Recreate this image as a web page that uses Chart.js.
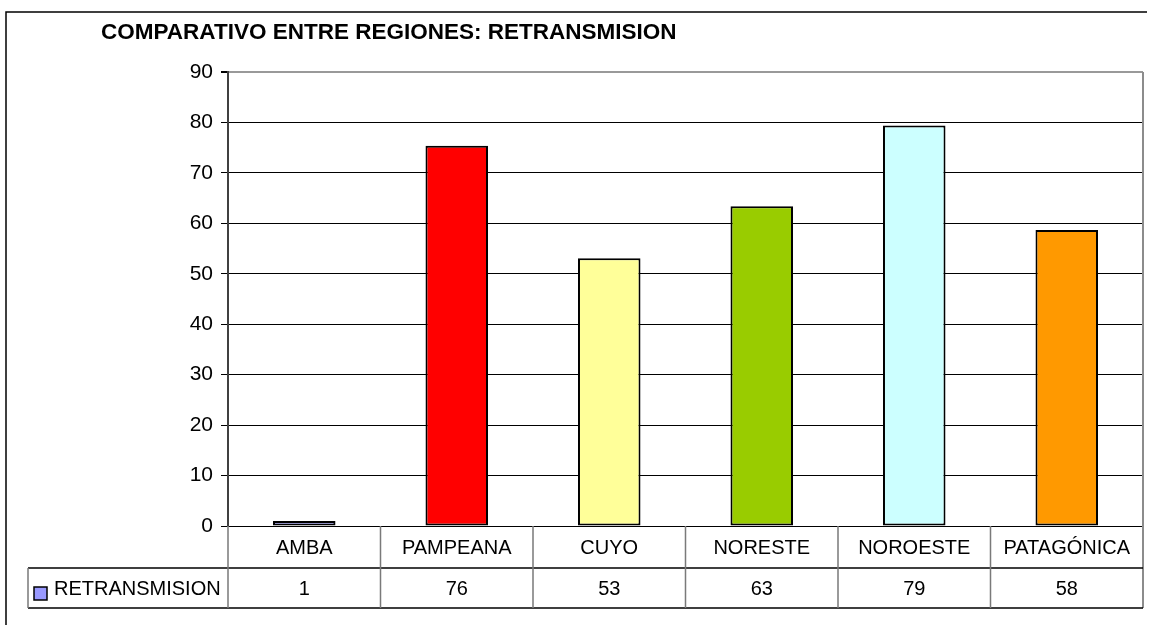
<!DOCTYPE html>
<html>
<head>
<meta charset="utf-8">
<script src="https://cdn.jsdelivr.net/npm/chart.js@4.4.1/dist/chart.umd.min.js"></script>
<style>
    html, body { margin: 0; padding: 0; background: #fff; }
    #wrap { width: 1153px; height: 625px; }
</style>
</head>
<body>
<div id="wrap"><canvas id="regionChart" width="1153" height="625"></canvas></div>
<script>
const regions = ['AMBA', 'PAMPEANA', 'CUYO', 'NORESTE', 'NOROESTE', 'PATAGÓNICA'];
const retransmision = [1, 75.4, 53.1, 63.4, 79.4, 58.7];
const tableValues = ['1', '76', '53', '63', '79', '58'];
const barColors = ['#9999ff', '#ff0000', '#ffff99', '#99cc00', '#ccffff', '#ff9900'];
const yTicks = [0, 10, 20, 30, 40, 50, 60, 70, 80, 90];
const seriesName = 'RETRANSMISION';
const chartTitle = 'COMPARATIVO ENTRE REGIONES: RETRANSMISION';

const FONT = 'Arial, "Liberation Sans", sans-serif';

// title, outer frame and the data table under the plot
const tablePlugin = {
    id: 'excelTable',
    afterDraw(chart) {
        const ctx = chart.ctx;
        const area = chart.chartArea;
        const xScale = chart.scales.x;
        const half = (xScale.getPixelForValue(1) - xScale.getPixelForValue(0)) / 2;
        const row1 = area.bottom + 42;
        const row2 = area.bottom + 82;
        const legendLeft = 28;

        ctx.save();

        // outer frame
        ctx.strokeStyle = '#000';
        ctx.lineWidth = 1.5;
        ctx.beginPath();
        ctx.moveTo(6, 625);
        ctx.lineTo(6, 12);
        ctx.lineTo(1147, 12);
        ctx.stroke();

        // title
        ctx.fillStyle = '#000';
        ctx.font = 'bold 22.5px ' + FONT;
        ctx.textAlign = 'left';
        ctx.textBaseline = 'middle';
        ctx.fillText(chartTitle, 101, 33);

        // right border of plot
        ctx.strokeStyle = '#8c8c8c';
        ctx.lineWidth = 2;
        ctx.beginPath();
        ctx.moveTo(area.right, area.top);
        ctx.lineTo(area.right, row2);
        ctx.stroke();

        // horizontal table lines
        ctx.strokeStyle = '#000';
        ctx.lineWidth = 1.5;
        ctx.beginPath();
        ctx.moveTo(legendLeft, row1);
        ctx.lineTo(area.right, row1);
        ctx.moveTo(legendLeft, row2);
        ctx.lineTo(area.right, row2);
        ctx.stroke();

        // vertical table lines
        ctx.strokeStyle = '#7a7a7a';
        ctx.lineWidth = 1.5;
        ctx.beginPath();
        ctx.moveTo(legendLeft, row1);
        ctx.lineTo(legendLeft, row2);
        regions.forEach((r, i) => {
            const x = xScale.getPixelForValue(i) - half;
            ctx.moveTo(x, area.bottom);
            ctx.lineTo(x, row2);
        });
        ctx.stroke();

        // category labels and values
        ctx.fillStyle = '#000';
        ctx.font = '20px ' + FONT;
        ctx.textAlign = 'center';
        regions.forEach((r, i) => {
            const x = xScale.getPixelForValue(i);
            ctx.fillText(r, x, (area.bottom + row1) / 2 + 1);
            ctx.fillText(tableValues[i], x, (row1 + row2) / 2 + 1);
        });

        // legend key
        ctx.fillStyle = barColors[0];
        ctx.fillRect(34, 587, 13, 13);
        ctx.strokeStyle = '#000';
        ctx.lineWidth = 1.5;
        ctx.strokeRect(34, 587, 13, 13);
        ctx.fillStyle = '#000';
        ctx.textAlign = 'left';
        ctx.fillText(seriesName, 54, (row1 + row2) / 2 + 1);

        ctx.restore();
    },
};

const canvas = document.getElementById('regionChart');
const regionChart = new Chart(canvas, {
    type: 'bar',
    data: {
        labels: regions,
        datasets: [
            {
                label: seriesName,
                data: retransmision,
                backgroundColor: barColors,
                borderColor: '#000',
                borderWidth: 2,
                borderSkipped: false,
                barPercentage: 0.41,
                categoryPercentage: 1,
            },
        ],
    },
    options: {
        responsive: false,
        animation: false,
        layout: {
            padding: { left: 0, right: 10, top: 72, bottom: 99 },
        },
        scales: {
            x: {
                display: false,
            },
            y: {
                min: 0,
                max: 90,
                afterFit: (scale) => {
                    scale.width = 228;
                },
                afterBuildTicks: (scale) => {
                    scale.ticks = yTicks.map((v) => ({ value: v }));
                },
                grid: {
                    color: (c) => (c.tick && c.tick.value === 90 ? '#999' : '#000'),
                    lineWidth: (c) => (c.tick && c.tick.value === 90 ? 2 : 1),
                    tickColor: '#000',
                    tickLength: 7,
                },
                border: {
                    display: true,
                    color: '#404040',
                    width: 2,
                },
                ticks: {
                    color: '#000',
                    padding: 8,
                    font: { family: FONT, size: 21 },
                },
            },
        },
        plugins: {
            legend: { display: false },
            tooltip: { enabled: false },
            title: { display: false },
        },
    },
    plugins: [tablePlugin],
});
</script>
</body>
</html>
